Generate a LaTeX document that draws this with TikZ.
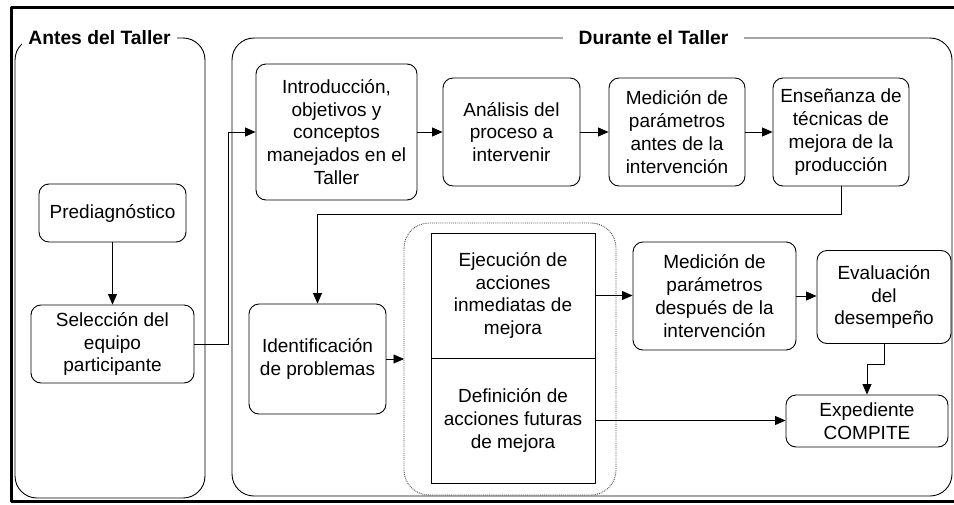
\documentclass[tikz,border=0pt]{standalone}
\usepackage{fontspec}
\setmainfont{Liberation Sans}
\usetikzlibrary{arrows.meta}
\begin{document}
\begin{tikzpicture}[x=1pt,y=-1pt,line join=round,font=\fontsize{19}{22.8}\selectfont,
	caja/.style={draw,rounded corners=10pt,align=center,inner sep=0pt,line width=.9pt},
	bloque/.style={draw,align=center,inner sep=0pt,line width=.9pt},
	panel/.style={draw,rounded corners=22pt,line width=.9pt},
	titulo/.style={fill=white,inner ysep=2pt,font=\fontsize{19.3}{22.8}\selectfont\bfseries},
	flecha/.style={-{Triangle[length=10.5pt,width=9pt]},line width=.9pt}]
	\useasboundingbox (0,0) rectangle (954,504);
	\draw[line width=3pt] (11,7) rectangle (962,501);
	% paneles
	\draw[panel] (15,38) rectangle (205,498);
	\draw[panel] (232,38) rectangle (952,496);
	\node[titulo,inner xsep=6pt] (antes) at (99.5,38) {Antes del Taller};
	\node[titulo,inner xsep=16pt] (durante) at (653.5,38) {Durante el Taller};
	\draw[panel,rounded corners=25pt,densely dotted,draw=black!70] (404,223) rectangle (616,495);
	\coordinate (contenedor) at (404,359);
	% antes del taller
	\node[caja,minimum width=147pt,minimum height=58pt] (prediag) at (112.5,213) {Prediagnóstico};
	\node[caja,minimum width=163pt,minimum height=78pt] (seleccion) at (112.5,344) {Selección del\\equipo\\participante};
	% durante el taller
	\node[caja,minimum width=161pt,minimum height=136pt] (intro) at (336.5,132) {Introducción,\\objetivos y\\conceptos\\manejados en el\\Taller};
	\node[caja,minimum width=137pt,minimum height=108pt] (analisis) at (511.5,132) {Análisis del\\proceso a\\intervenir};
	\node[caja,minimum width=136pt,minimum height=108pt] (medAntes) at (677,132) {Medición de\\parámetros\\antes de la\\intervención};
	\node[caja,minimum width=136pt,minimum height=108pt] (ensenanza) at (841,132) {Enseñanza de\\técnicas de\\mejora de la\\producción};
	\node[caja,minimum width=137pt,minimum height=110pt] (identif) at (317.5,359) {Identificación\\de problemas};
	\node[bloque,minimum width=164pt,minimum height=125pt] (ejec) at (513,295.5) {Ejecución de\\acciones\\inmediatas de\\mejora};
	\node[bloque,minimum width=164pt,minimum height=125pt] (defin) at (513,420.5) {Definición de\\acciones futuras\\de mejora};
	\node[caja,minimum width=163pt,minimum height=108pt] (medDespues) at (714.5,296) {Medición de\\parámetros\\después de la\\intervención};
	\node[caja,minimum width=134pt,minimum height=93pt] (evaluacion) at (884,297) {Evaluación\\del\\desempeño};
	\node[caja,minimum width=162pt,minimum height=52pt] (expediente) at (867,421) {Expediente\\COMPITE};
	% conexiones
	\draw[flecha] (prediag) -- (seleccion);
	\draw[flecha] (seleccion.east) -- ++(34,0) |- (intro.west);
	\draw[flecha] (intro) -- (analisis);
	\draw[flecha] (analisis) -- (medAntes);
	\draw[flecha] (medAntes) -- (ensenanza);
	\draw[flecha] (ensenanza.south) -- ++(0,28) -| (identif.north);
	\draw[flecha] (identif.east) -- (contenedor);
	\draw[flecha] (ejec.east) -- (ejec.east -| medDespues.west);
	\draw[flecha] (medDespues.east) -- (medDespues.east -| evaluacion.west);
	\draw[flecha] (evaluacion.south) -- ++(0,20) -| (expediente.north);
	\draw[flecha] (defin.east) -- (defin.east -| expediente.west);
\end{tikzpicture}
\end{document}
